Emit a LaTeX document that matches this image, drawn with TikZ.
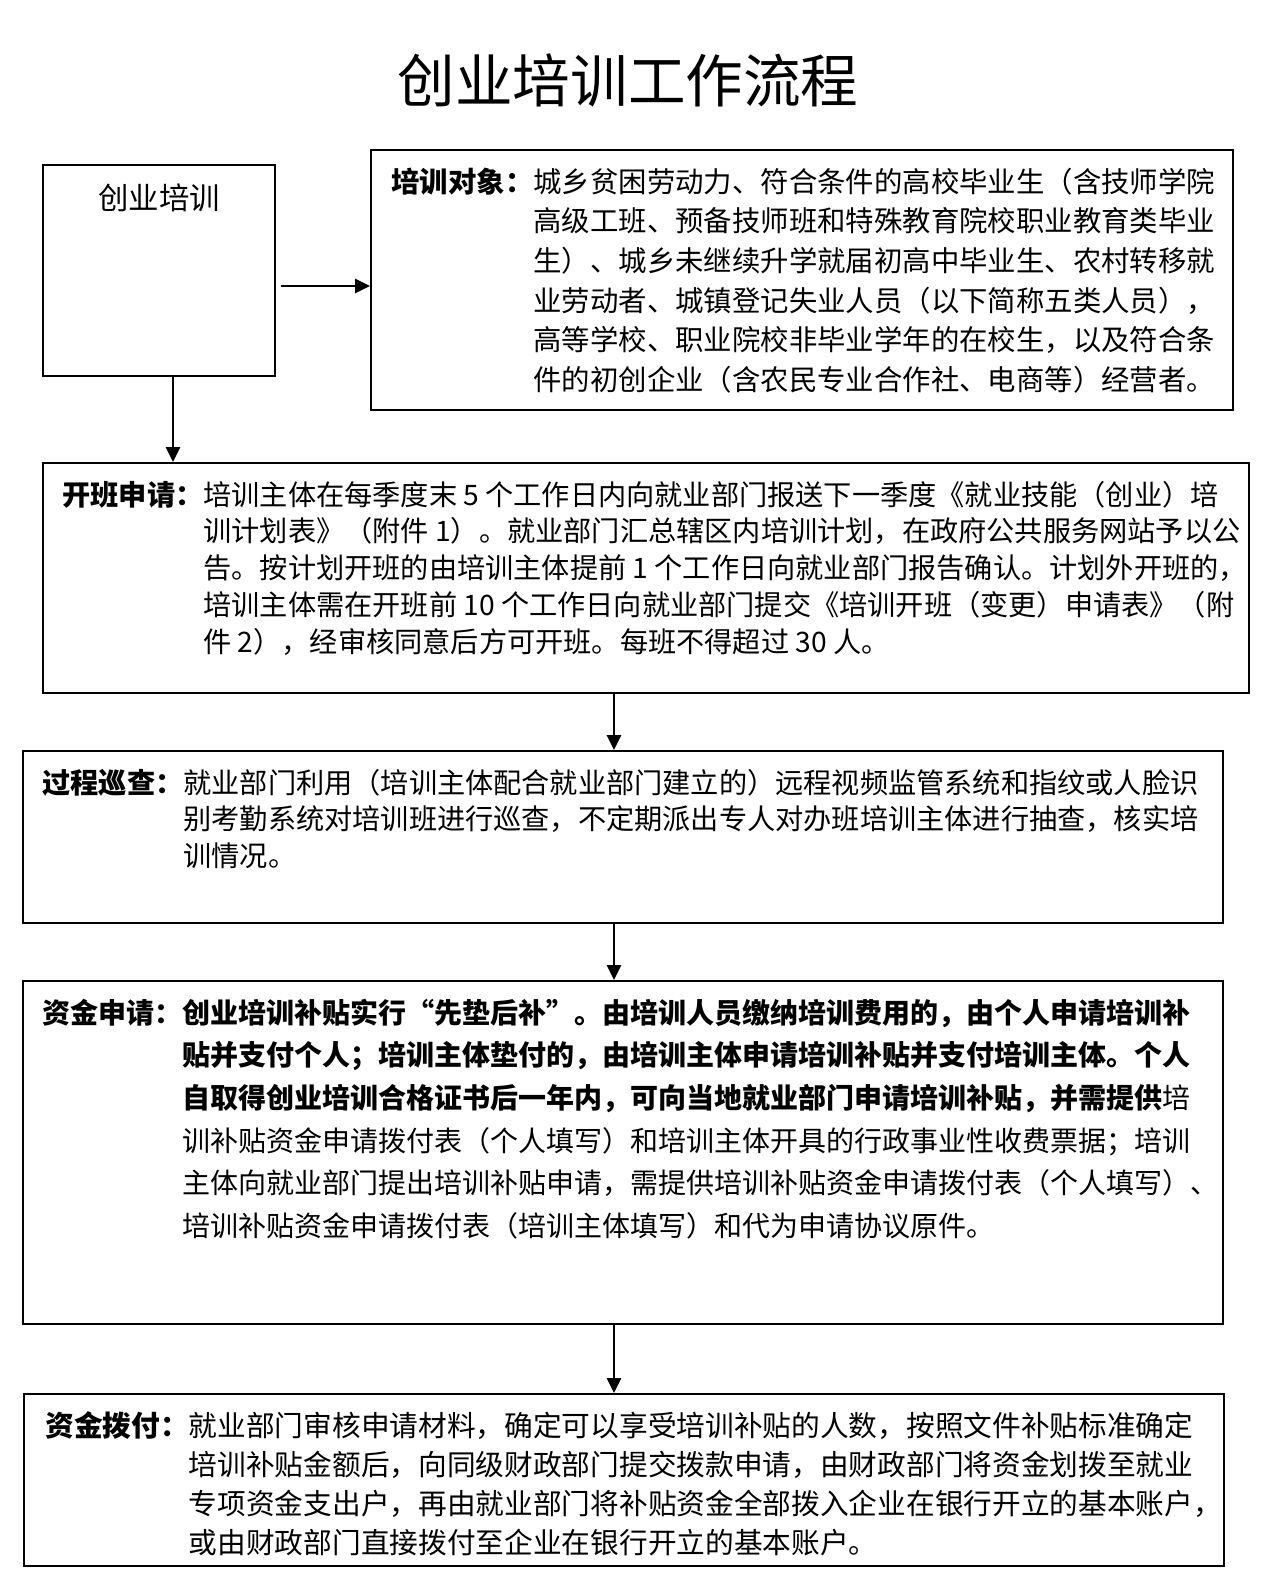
\documentclass[tikz,border=0pt]{standalone}
\usepackage{fontspec}
\setmainfont{Noto Sans CJK SC}
\usetikzlibrary{arrows.meta,positioning,calc}

\begin{document}
\begin{tikzpicture}[
  x=0.5pt, y=-0.5pt,
  every node/.style={inner sep=0pt},
  box/.style={draw=black, line width=1pt, anchor=north west},
  body/.style 2 args={font=\fontsize{#1}{#2}\selectfont, anchor=base west},
  ar/.style={-{Triangle[length=7.5pt,width=7pt]}, line width=1.4pt, black},
]
\useasboundingbox (0,0) rectangle (1280,1580);

% =============================================================== title
\node[font=\fontsize{28.8pt}{34pt}\selectfont] (title) at (628,80) {创业培训工作流程};

% =============================================================== boxes
\node[box, minimum width=116pt, minimum height=105.5pt] (cypx) at (42,164) {};
\node[box, minimum width=431pt, minimum height=130pt] (pxdx) at (370,149) {};
\node[box, minimum width=603pt, minimum height=115pt] (kbsq) at (42,462) {};
\node[box, minimum width=600pt, minimum height=86pt] (gcxc) at (22,750) {};
\node[box, minimum width=600pt, minimum height=171.5pt] (zjsq) at (22,980) {};
\node[box, minimum width=600pt, minimum height=86pt] (zjbf) at (23,1393) {};

% --- texts ---
\node[font=\fontsize{15.2pt}{18pt}\selectfont] (cypx-t) at ([yshift=-17pt]cypx.north) {创业培训};

\node[body={14.2pt}{19.85pt}] (pxdx-t) at ([shift={(10.5pt,-21.5pt)}]pxdx.north west)
  {\textbf{培训对象：}\begin{tabular}[t]{@{}l@{}}
   城乡贫困劳动力、符合条件的高校毕业生（含技师学院\\
   高级工班、预备技师班和特殊教育院校职业教育类毕业\\
   生）、城乡未继续升学就届初高中毕业生、农村转移就\\
   业劳动者、城镇登记失业人员（以下简称五类人员），\\
   高等学校、职业院校非毕业学年的在校生，以及符合条\\
   件的初创企业（含农民专业合作社、电商等）经营者。
   \end{tabular}};

\node[body={14.1pt}{18.4pt}] (kbsq-t) at ([shift={(10pt,-21.5pt)}]kbsq.north west)
  {\textbf{开班申请：}\begin{tabular}[t]{@{}l@{}}
   培训主体在每季度末 5 个工作日内向就业部门报送下一季度《就业技能（创业）培\\
   训计划表》（附件 1）。就业部门汇总辖区内培训计划，在政府公共服务网站予以公\\
   告。按计划开班的由培训主体提前 1 个工作日向就业部门报告确认。计划外开班的，\\
   培训主体需在开班前 10 个工作日向就业部门提交《培训开班（变更）申请表》（附\\
   件 2），经审核同意后方可开班。每班不得超过 30 人。
   \end{tabular}};

\node[body={14.1pt}{18.4pt}] (gcxc-t) at ([shift={(10pt,-21.5pt)}]gcxc.north west)
  {\textbf{过程巡查：}\begin{tabular}[t]{@{}l@{}}
   就业部门利用（培训主体配合就业部门建立的）远程视频监管系统和指纹或人脸识\\
   别考勤系统对培训班进行巡查，不定期派出专人对办班培训主体进行抽查，核实培\\
   训情况。
   \end{tabular}};

\node[body={14pt}{21.35pt}] (zjsq-t) at ([shift={(10pt,-21.5pt)}]zjsq.north west)
  {\textbf{资金申请：}\begin{tabular}[t]{@{}l@{}}
   \textbf{创业培训补贴实行“先垫后补”。由培训人员缴纳培训费用的，由个人申请培训补}\\
   \textbf{贴并支付个人；培训主体垫付的，由培训主体申请培训补贴并支付培训主体。个人}\\
   \textbf{自取得创业培训合格证书后一年内，可向当地就业部门申请培训补贴，并需提供}培\\
   训补贴资金申请拨付表（个人填写）和培训主体开具的行政事业性收费票据；培训\\
   主体向就业部门提出培训补贴申请，需提供培训补贴资金申请拨付表（个人填写）、\\
   培训补贴资金申请拨付表（培训主体填写）和代为申请协议原件。
   \end{tabular}};

\node[body={14.35pt}{19.5pt}] (zjbf-t) at ([shift={(11pt,-21.5pt)}]zjbf.north west)
  {\textbf{资金拨付：}\begin{tabular}[t]{@{}l@{}}
   就业部门审核申请材料，确定可以享受培训补贴的人数，按照文件补贴标准确定\\
   培训补贴金额后，向同级财政部门提交拨款申请，由财政部门将资金划拨至就业\\
   专项资金支出户，再由就业部门将补贴资金全部拨入企业在银行开立的基本账户，\\
   或由财政部门直接拨付至企业在银行开立的基本账户。
   \end{tabular}};

% =============================================================== arrows
\coordinate (a1) at ([shift={(2.5pt,-7.75pt)}]cypx.east);
\draw[ar] (a1) -- (a1 -| pxdx.west);
\coordinate (a2) at ([xshift=7pt]cypx.south);
\draw[ar] (a2) -- (a2 |- kbsq.north);

\coordinate (mx) at (614,0);
\foreach \a/\b in {kbsq/gcxc, gcxc/zjsq, zjsq/zjbf}
  \draw[ar] (\a.south -| mx) -- (\b.north -| mx);

\end{tikzpicture}
\end{document}
